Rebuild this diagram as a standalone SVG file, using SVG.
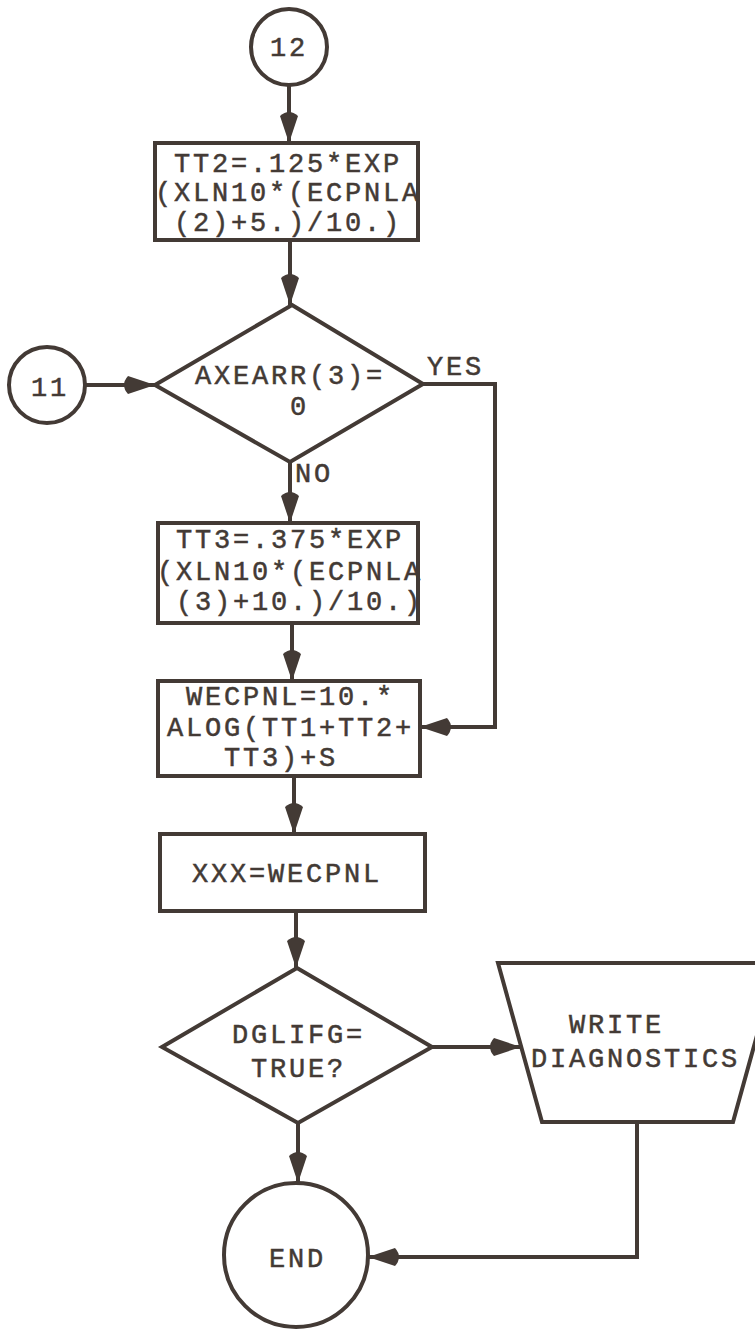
<svg xmlns="http://www.w3.org/2000/svg" width="755" height="1329" viewBox="0 0 755 1329">
<defs>
<style>
.s{fill:#fff;stroke:#433a35;stroke-width:4;stroke-linejoin:miter}
.c{fill:none;stroke:#433a35;stroke-width:4}
.t{font-family:"Liberation Mono","DejaVu Sans Mono",monospace;font-size:27px;letter-spacing:2.8px;fill:#433a35;stroke:#433a35;stroke-width:0.5}
</style>
<marker id="ah" markerUnits="userSpaceOnUse" markerWidth="40" markerHeight="22" refX="34" refY="11" orient="auto" overflow="visible">
<path d="M34,11 L7,2 Q-1,11 7,20 Z" fill="#433a35"/>
</marker>
</defs>
<rect width="755" height="1329" fill="#fff"/>
<g id="connectors">
<path class="c" d="M289,85 V143" marker-end="url(#ah)"/>
<path class="c" d="M290,240 V305" marker-end="url(#ah)"/>
<path class="c" d="M85,385 H155" marker-end="url(#ah)"/>
<path class="c" d="M423,384 H495 V727 H420" marker-end="url(#ah)"/>
<path class="c" d="M290,462 V523" marker-end="url(#ah)"/>
<path class="c" d="M292,623 V681" marker-end="url(#ah)"/>
<path class="c" d="M294,776 V834" marker-end="url(#ah)"/>
<path class="c" d="M296,911 V968" marker-end="url(#ah)"/>
<path class="c" d="M432,1047 H521" marker-end="url(#ah)"/>
<path class="c" d="M298,1123 V1183" marker-end="url(#ah)"/>
<path class="c" d="M637,1122 V1257 H368" marker-end="url(#ah)"/>
<text class="t" x="427" y="375">YES</text>
<text class="t" x="295" y="482">NO</text>
</g>
<g id="n12">
<circle class="s" cx="289" cy="47" r="38"/>
<text class="t" x="270" y="56">12</text>
</g>
<g id="tt2">
<rect class="s" x="155" y="143" width="263" height="97"/>
<text class="t" x="174" y="172">TT2=.125*EXP</text>
<text class="t" x="155" y="201">(XLN10*(ECPNLA</text>
<text class="t" x="174" y="231">(2)+5.)/10.)</text>
</g>
<g id="n11">
<circle class="s" cx="47" cy="385" r="38"/>
<text class="t" x="31" y="396">11</text>
</g>
<g id="axearr">
<polygon class="s" points="292,305 423,384 290,462 155,385"/>
<text class="t" x="195" y="384">AXEARR(3)=</text>
<text class="t" x="290" y="415">0</text>
</g>
<g id="tt3">
<rect class="s" x="158" y="523" width="260" height="100"/>
<text class="t" x="176" y="548">TT3=.375*EXP</text>
<text class="t" x="157" y="580">(XLN10*(ECPNLA</text>
<text class="t" x="176" y="610">(3)+10.)/10.)</text>
</g>
<g id="wecpnl">
<rect class="s" x="158" y="681" width="262" height="95"/>
<text class="t" x="186" y="705">WECPNL=10.*</text>
<text class="t" x="167" y="736">ALOG(TT1+TT2+</text>
<text class="t" x="224" y="766">TT3)+S</text>
</g>
<g id="xxx">
<rect class="s" x="160" y="834" width="265" height="77"/>
<text class="t" x="192" y="882">XXX=WECPNL</text>
</g>
<g id="dglifg">
<polygon class="s" points="297,968 432,1047 298,1123 162,1047"/>
<text class="t" x="232" y="1043">DGLIFG=</text>
<text class="t" x="251" y="1077">TRUE?</text>
</g>
<g id="write">
<polygon class="s" points="498,963 777,963 733,1122 542,1122"/>
<text class="t" x="569" y="1033">WRITE</text>
<text class="t" x="531" y="1067">DIAGNOSTICS</text>
</g>
<g id="end">
<circle class="s" cx="296" cy="1255" r="72"/>
<text class="t" x="269" y="1267">END</text>
</g>
</svg>
